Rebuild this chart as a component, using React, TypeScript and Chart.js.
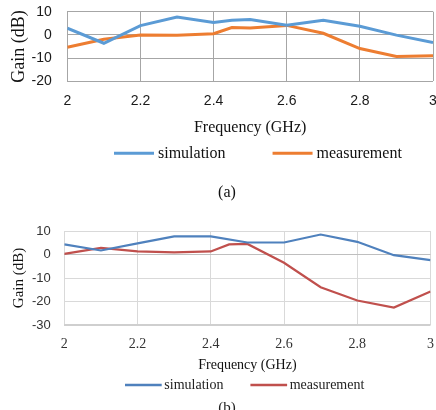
import { useEffect, useRef } from "react";
import { Chart, registerables } from "chart.js";

Chart.register(...registerables);

// Shared frequency ticks (GHz) and series names
const xTicks = [2, 2.2, 2.4, 2.6, 2.8, 3];
const seriesNames = ["simulation", "measurement"];

// Panel (a): gain in dB
const simFreqA = [2, 2.1, 2.2, 2.3, 2.4, 2.45, 2.5, 2.6, 2.7, 2.8, 2.9, 3];
const simGainA = [2.9, -3.6, 4.0, 7.7, 5.4, 6.3, 6.6, 4.2, 6.3, 3.7, -0.1, -3.3];
const measFreqA = [2, 2.1, 2.2, 2.3, 2.4, 2.45, 2.5, 2.6, 2.7, 2.8, 2.9, 3];
const measGainA = [-5.3, -1.9, 0, -0.2, 0.5, 3.2, 3.0, 4.1, 0.7, -5.9, -9.3, -9.0];
const yTicksA = [-20, -10, 0, 10];

// Panel (b): gain in dB
const simFreqB = [2, 2.1, 2.2, 2.3, 2.4, 2.5, 2.6, 2.7, 2.8, 2.9, 3];
const simGainB = [4.3, 1.7, 4.7, 7.7, 7.7, 5.1, 5.1, 8.5, 5.4, -0.3, -2.4];
const measFreqB = [2, 2.1, 2.2, 2.3, 2.4, 2.45, 2.5, 2.6, 2.7, 2.8, 2.9, 3];
const measGainB = [0.3, 2.8, 1.3, 0.9, 1.3, 4.3, 4.5, -3.5, -13.9, -19.6, -22.6, -15.7];
const yTicksB = [-30, -20, -10, 0, 10];

const SANS = "'Liberation Sans', Arial, sans-serif";
const SERIF = "'Liberation Serif', 'Times New Roman', serif";

// Draws the line-sample legend and the panel caption under the x axis
const panelText = {
  id: "panelText",
  afterDraw(chart: any, _args: any, opts: any) {
    const { ctx } = chart;
    ctx.save();
    ctx.font = opts.font;
    ctx.textBaseline = "middle";
    ctx.textAlign = "left";
    let x = opts.left;
    chart.data.datasets.forEach((ds: any) => {
      ctx.strokeStyle = ds.borderColor;
      ctx.lineWidth = opts.lineWidth;
      ctx.beginPath();
      ctx.moveTo(x, opts.y);
      ctx.lineTo(x + opts.lineLength, opts.y);
      ctx.stroke();
      x += opts.lineLength + opts.textGap;
      ctx.fillStyle = opts.color;
      ctx.fillText(ds.label, x, opts.y);
      x += ctx.measureText(ds.label).width + opts.itemGap;
    });
    ctx.textAlign = "center";
    ctx.font = opts.captionFont;
    ctx.fillStyle = opts.color;
    ctx.fillText(opts.caption, opts.captionX, opts.captionY);
    ctx.restore();
  },
};

function buildConfig(p: any) {
  const toPts = (xs: number[], ys: number[]) => xs.map((x, i) => ({ x, y: ys[i] }));
  return {
    type: "line",
    data: {
      datasets: [
        {
          label: seriesNames[0],
          data: toPts(p.simX, p.simY),
          borderColor: p.colors[0],
          backgroundColor: p.colors[0],
          borderWidth: p.lineWidth,
          pointRadius: 0,
          tension: 0,
        },
        {
          label: seriesNames[1],
          data: toPts(p.measX, p.measY),
          borderColor: p.colors[1],
          backgroundColor: p.colors[1],
          borderWidth: p.lineWidth,
          pointRadius: 0,
          tension: 0,
        },
      ],
    },
    options: {
      responsive: false,
      animation: false,
      events: [],
      layout: { padding: { top: p.padTop, right: p.padRight, bottom: p.padBottom, left: 0 } },
      plugins: {
        legend: { display: false },
        tooltip: { enabled: false },
        title: { display: false },
        panelText: p.text,
      },
      scales: {
        x: {
          type: "linear",
          min: 2,
          max: 3,
          afterBuildTicks: (s: any) => {
            s.ticks = xTicks.map((v) => ({ value: v }));
          },
          afterFit: (s: any) => {
            s.height = p.xAxisHeight;
            s.paddingLeft = 0;
            s.paddingRight = 0;
          },
          ticks: {
            callback: (v: number) => String(v),
            font: p.xTickFont,
            color: p.tickColor,
            padding: p.xTickPad,
            maxRotation: 0,
            autoSkip: false,
          },
          grid: { color: p.gridColor, lineWidth: 1, drawTicks: false },
          border: { display: false },
          title: {
            display: true,
            text: "Frequency (GHz)",
            font: p.xTitleFont,
            color: "#111",
            padding: { top: p.xTitlePad, bottom: 0 },
          },
        },
        y: {
          type: "linear",
          min: p.yTicks[0],
          max: p.yTicks[p.yTicks.length - 1],
          afterBuildTicks: (s: any) => {
            s.ticks = p.yTicks.map((v: number) => ({ value: v }));
          },
          afterFit: (s: any) => {
            s.width = p.chartLeft;
            s.paddingTop = 0;
            s.paddingBottom = 0;
          },
          ticks: {
            callback: (v: number) => String(v),
            font: p.yTickFont,
            color: p.tickColor,
            padding: p.yTickPad,
          },
          grid: {
            color: p.yGridColor,
            lineWidth: p.yGridWidth,
            drawTicks: false,
          },
          border: { display: false },
          title: {
            display: true,
            text: "Gain (dB)",
            font: p.yTitleFont,
            color: "#111",
            padding: { top: p.yTitlePad, bottom: 0 },
          },
        },
      },
    },
    plugins: [panelText],
  };
}

const configA = buildConfig({
  simX: simFreqA,
  simY: simGainA,
  measX: measFreqA,
  measY: measGainA,
  yTicks: yTicksA,
  colors: ["#5b9bd5", "#ed7d31"],
  lineWidth: 3,
  padTop: 11.7,
  padRight: 3,
  padBottom: 67.9,
  xAxisHeight: 55.8,
  chartLeft: 67.3,
  gridColor: "#a6a6a6",
  yGridColor: "#a6a6a6",
  yGridWidth: 1,
  tickColor: "#1a1a1a",
  xTickFont: { family: SANS, size: 14 },
  yTickFont: { family: SANS, size: 14 },
  xTickPad: 11.8,
  yTickPad: 15.6,
  xTitleFont: { family: SERIF, size: 16 },
  xTitlePad: 8,
  yTitleFont: { family: SERIF, size: 18 },
  yTitlePad: 8.2,
  text: {
    font: `16px ${SERIF}`,
    color: "#111",
    lineWidth: 3,
    lineLength: 40,
    textGap: 4,
    itemGap: 47,
    left: 114,
    y: 153.3,
    caption: "(a)",
    captionFont: `16px ${SERIF}`,
    captionX: 227,
    captionY: 192.5,
  },
});

const configB = buildConfig({
  simX: simFreqB,
  simY: simGainB,
  measX: measFreqB,
  measY: measGainB,
  yTicks: yTicksB,
  colors: ["#4f81bd", "#c0504d"],
  lineWidth: 2.2,
  padTop: 26,
  padRight: 5.5,
  padBottom: 43.6,
  xAxisHeight: 48.4,
  chartLeft: 64.3,
  gridColor: "#d9d9d9",
  yGridColor: (c: any) =>
    c.tick && c.tick.value === 0 ? "#bfbfbf" : c.tick && c.tick.value === -30 ? "#cfcfcf" : "#d9d9d9",
  yGridWidth: (c: any) => (c.tick && c.tick.value === -30 ? 2 : 1),
  tickColor: "#333",
  xTickFont: { family: SERIF, size: 14 },
  yTickFont: { family: SANS, size: 13 },
  xTickPad: 11.3,
  yTickPad: 13.6,
  xTitleFont: { family: SERIF, size: 14 },
  xTitlePad: 3.5,
  yTitleFont: { family: SERIF, size: 15 },
  yTitlePad: 10,
  text: {
    font: `14px ${SERIF}`,
    color: "#222",
    lineWidth: 2.5,
    lineLength: 36.7,
    textGap: 2.6,
    itemGap: 27,
    left: 125,
    y: 180,
    caption: "(b)",
    captionFont: `15px ${SERIF}`,
    captionX: 227,
    captionY: 203,
  },
});

function Panel({ top, height, config }: { top: number; height: number; config: any }) {
  const ref = useRef<HTMLCanvasElement>(null);
  useEffect(() => {
    const chart = new Chart(ref.current as HTMLCanvasElement, config);
    return () => chart.destroy();
  }, [config]);
  return (
    <canvas
      ref={ref}
      width={436}
      height={height}
      style={{ position: "absolute", left: 0, top, width: 436, height }}
    />
  );
}

export default function App() {
  return (
    <div
      style={{
        position: "absolute",
        left: 0,
        top: 0,
        width: 436,
        height: 410,
        overflow: "hidden",
        background: "#fff",
      }}
    >
      <Panel top={0} height={205} config={configA} />
      <Panel top={205} height={212} config={configB} />
    </div>
  );
}
